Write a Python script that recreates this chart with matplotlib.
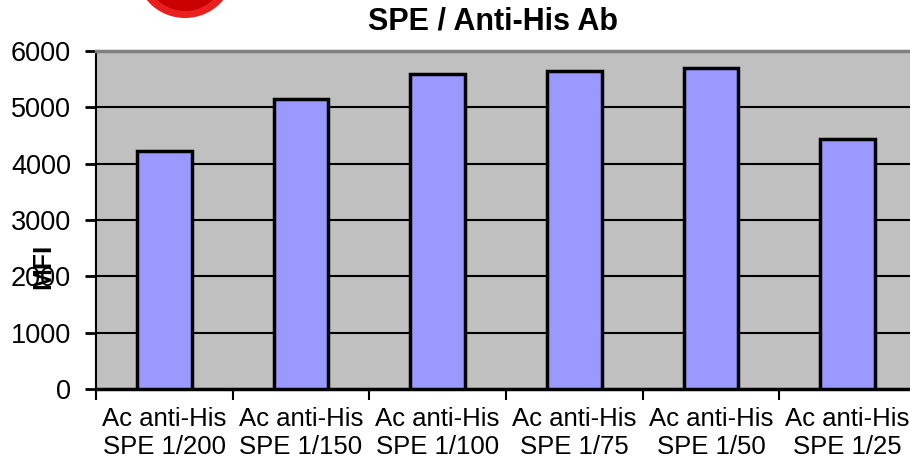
import matplotlib.pyplot as plt
from matplotlib.patches import Ellipse

plt.rcParams['font.family'] = ['Liberation Sans', 'DejaVu Sans']

# donnees
categories = ["Ac anti-His\nSPE 1/200", "Ac anti-His\nSPE 1/150", "Ac anti-His\nSPE 1/100",
              "Ac anti-His\nSPE 1/75", "Ac anti-His\nSPE 1/50", "Ac anti-His\nSPE 1/25"]
mfi = [4220, 5150, 5600, 5650, 5690, 4430]
y_ticks = [0, 1000, 2000, 3000, 4000, 5000, 6000]

W, H = 910, 465
fig = plt.figure(figsize=(W / 100, H / 100), dpi=100)
ax = fig.add_axes([96 / W, 1 - 389 / H, (916 - 96) / W, (389 - 51) / H])
ax.set_facecolor('#C0C0C0')

x = list(range(len(categories)))
ax.bar(x, mfi, width=0.4, color='#9999FF', edgecolor='black', linewidth=2.5, zorder=3)

ax.set_xlim(-0.5, len(categories) - 0.5)
ax.set_ylim(0, 6000)
ax.set_yticks(y_ticks)
for v in y_ticks[1:-1]:
    ax.axhline(v, color='black', linewidth=1.5, zorder=1)

ax.set_xticks(x)
ax.set_xticklabels(categories, fontsize=18.5, linespacing=1.22)
ax.set_xticks([i - 0.5 for i in range(len(categories) + 1)], minor=True)
ax.tick_params(axis='x', which='major', length=0, pad=13)
ax.tick_params(axis='x', which='minor', length=8, width=1.5, direction='out')
ax.tick_params(axis='y', length=8, width=2, direction='out', labelsize=19.5, pad=10)

ax.spines['left'].set_linewidth(1.5)
ax.spines['bottom'].set_linewidth(2.5)
ax.spines['top'].set_color('#808080')
ax.spines['top'].set_linewidth(2.5)
ax.spines['right'].set_visible(False)

fig.text(493 / W, 1 - 21 / H, "SPE / Anti-His Ab", fontsize=22, fontweight='bold',
         ha='center', va='center')
fig.text(43 / W, 1 - 266 / H, "MFI", fontsize=19, fontweight='bold', rotation=90,
         ha='center', va='center')

# tache rouge decorative en haut
fig.patches.append(Ellipse((185 / W, 1 + 30 / H), 98 / W, 96 / H, transform=fig.transFigure,
                           facecolor='#E82020', edgecolor='none'))
fig.patches.append(Ellipse((185 / W, 1 + 34 / H), 84 / W, 90 / H, transform=fig.transFigure,
                           facecolor='#C80000', edgecolor='none'))

fig.savefig('out.png', dpi=100)
